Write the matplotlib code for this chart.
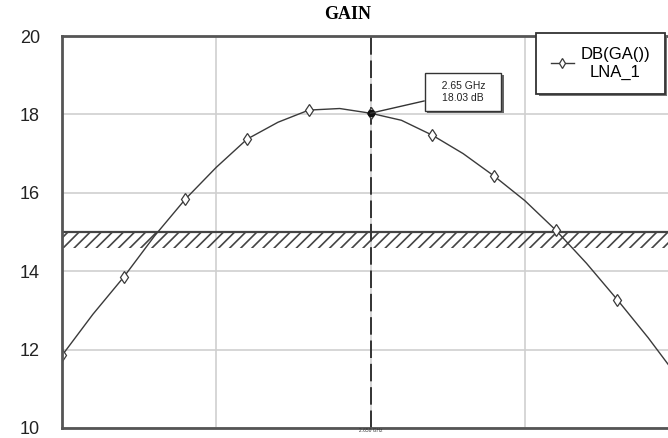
import matplotlib
matplotlib.use("Agg")
import matplotlib.pyplot as plt
import matplotlib.patheffects as pe

# swept gain of LNA_1, every 50 MHz (symbols drawn every 100 MHz)
freq_ghz = [2.15, 2.20, 2.25, 2.30, 2.35, 2.40, 2.45, 2.50, 2.55, 2.60,
            2.65, 2.70, 2.75, 2.80, 2.85, 2.90, 2.95, 3.00, 3.05, 3.10, 3.15]
gain_db = [11.85, 12.90, 13.85, 14.90, 15.84, 16.65, 17.37, 17.80, 18.11, 18.15,
           18.03, 17.85, 17.47, 17.00, 16.43, 15.80, 15.05, 14.20, 13.27, 12.30, 11.25]

marker_freq = 2.65
marker_gain = 18.03
spec_top = 15.0
spec_bottom = 14.6
y_ticks = [10, 12, 14, 16, 18, 20]
x_grid = [2.40, 2.65, 2.90]

plt.rcParams['font.family'] = ['Liberation Sans', 'DejaVu Sans']
plt.rcParams['hatch.linewidth'] = 1.2
plt.rcParams['hatch.color'] = '#444444'

fig = plt.figure(figsize=(6.68, 4.38), dpi=100)
ax = fig.add_axes([62/668, 10/438, 1 - 62/668, 392/438])

ax.set_xlim(2.15, 3.132)
ax.set_ylim(10, 20)
ax.set_yticks(y_ticks)
ax.set_xticks(x_grid)
ax.set_xticklabels([])
ax.tick_params(length=0, labelsize=13, pad=16, colors='#222222')
ax.grid(True, color='#cfcfcf', lw=1.2)
ax.set_axisbelow(True)

for side in ['left', 'bottom', 'top']:
    ax.spines[side].set_color('#555555')
    ax.spines[side].set_linewidth(2)
ax.spines['right'].set_visible(False)

# spec line with hatched keep-out band under it
ax.fill_between([2.15, 3.2], spec_bottom, spec_top, facecolor='none',
                edgecolor='#444444', hatch='///', lw=0)
ax.axhline(spec_top, color='#444444', lw=1.6)

# marker cursor
ax.axvline(marker_freq, color='#333333', lw=1.4, dashes=(9, 3))
ax.text(marker_freq, 10, "2.650 GHz", fontsize=3.5, ha='center', va='top',
        color='#333333')

line, = ax.plot(freq_ghz, gain_db, color='#3a3a3a', lw=1.0, marker='d',
                markersize=6.5, markerfacecolor='white', markeredgecolor='#3a3a3a',
                markeredgewidth=0.9, markevery=2)
ax.plot([marker_freq], [marker_gain], 'o', color='#111111', markersize=4.5)

ann = ax.annotate("   %.2f GHz   \n%.2f dB" % (marker_freq, marker_gain),
                  xy=(marker_freq, marker_gain), xytext=(2.80, 18.57),
                  fontsize=7.5, ha='center', va='center', color='#222222',
                  linespacing=1.25, multialignment='center',
                  bbox=dict(boxstyle='square,pad=0.75', fc='white', ec='#333333', lw=1.0),
                  arrowprops=dict(arrowstyle='-', color='#333333', lw=1.0,
                                  shrinkA=0, shrinkB=0))
ann.get_bbox_patch().set_path_effects(
    [pe.SimplePatchShadow(offset=(1.5, -1.5), shadow_rgbFace='#555555', alpha=0.9),
     pe.Normal()])

leg = ax.legend([line], ["DB(GA())\nLNA_1"], loc='upper left',
                bbox_to_anchor=(0.783, 1.008), fontsize=12, frameon=True,
                fancybox=False, shadow=False, framealpha=1, handlelength=1.4,
                handletextpad=0.4, borderpad=0.85, borderaxespad=0,
                markerscale=0.8)
leg.get_frame().set_facecolor('white')
leg.get_frame().set_edgecolor('#333333')
leg.get_frame().set_linewidth(1.3)
leg.get_frame().set_path_effects(
    [pe.SimplePatchShadow(offset=(1.5, -1.5), shadow_rgbFace='#666666', alpha=0.9),
     pe.Normal()])
for t in leg.get_texts():
    t.set_multialignment('center')

fig.text(0.52, 0.966, "GAIN", ha='center', va='center', fontsize=13,
         fontweight='bold', family='Liberation Serif')

fig.savefig("out.png", dpi=100)
